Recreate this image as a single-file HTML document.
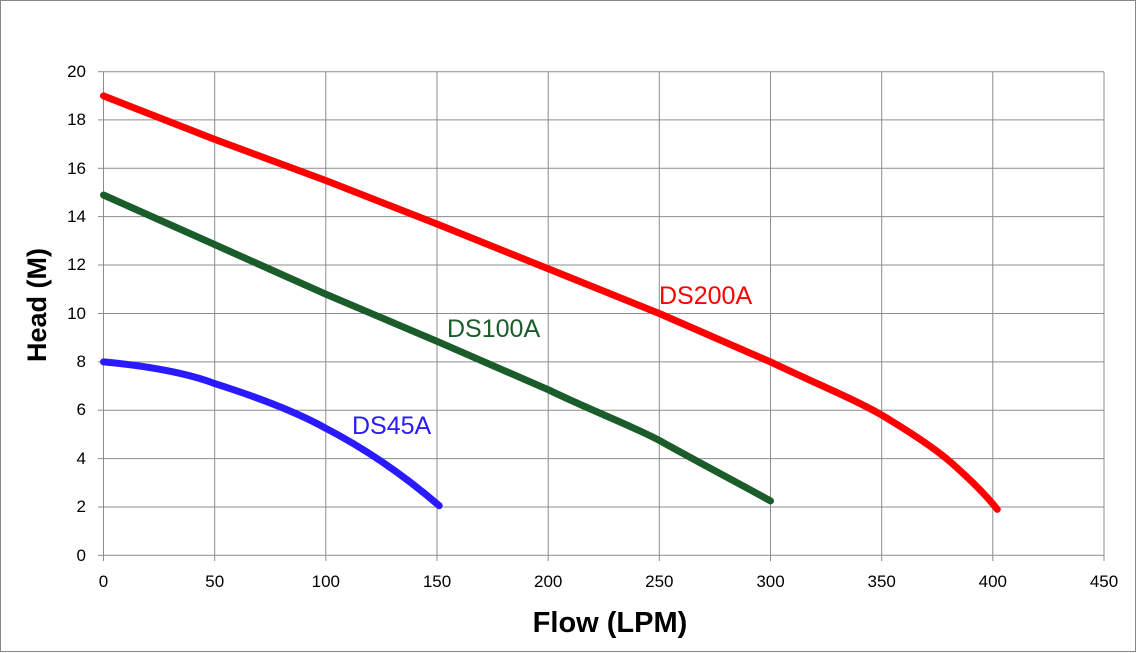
<!DOCTYPE html>
<html><head><style>body{margin:0;background:#fff}svg{display:block}</style></head><body>
<svg width="1137" height="653" xmlns="http://www.w3.org/2000/svg" font-family="Liberation Sans, sans-serif">
<rect x="0.5" y="0.5" width="1135" height="651" fill="#fff" stroke="#888"/>
<g stroke="#8c8c8c" stroke-width="1">
<line x1="103.5" y1="71.7" x2="1104" y2="71.7"/><line x1="103.5" y1="119.9" x2="1104" y2="119.9"/><line x1="103.5" y1="168.3" x2="1104" y2="168.3"/><line x1="103.5" y1="216.6" x2="1104" y2="216.6"/><line x1="103.5" y1="265" x2="1104" y2="265"/><line x1="103.5" y1="313.5" x2="1104" y2="313.5"/><line x1="103.5" y1="361.9" x2="1104" y2="361.9"/><line x1="103.5" y1="410.2" x2="1104" y2="410.2"/><line x1="103.5" y1="458.6" x2="1104" y2="458.6"/><line x1="103.5" y1="507" x2="1104" y2="507"/><line x1="103.5" y1="555.3" x2="1104" y2="555.3"/>
<line x1="103.5" y1="71.7" x2="103.5" y2="561"/><line x1="214.7" y1="71.7" x2="214.7" y2="561"/><line x1="325.8" y1="71.7" x2="325.8" y2="561"/><line x1="437" y1="71.7" x2="437" y2="561"/><line x1="548.2" y1="71.7" x2="548.2" y2="561"/><line x1="659.3" y1="71.7" x2="659.3" y2="561"/><line x1="770.5" y1="71.7" x2="770.5" y2="561"/><line x1="881.7" y1="71.7" x2="881.7" y2="561"/><line x1="992.8" y1="71.7" x2="992.8" y2="561"/><line x1="1104" y1="71.7" x2="1104" y2="561"/>
<line x1="98" y1="71.7" x2="103.5" y2="71.7"/><line x1="98" y1="119.9" x2="103.5" y2="119.9"/><line x1="98" y1="168.3" x2="103.5" y2="168.3"/><line x1="98" y1="216.6" x2="103.5" y2="216.6"/><line x1="98" y1="265" x2="103.5" y2="265"/><line x1="98" y1="313.5" x2="103.5" y2="313.5"/><line x1="98" y1="361.9" x2="103.5" y2="361.9"/><line x1="98" y1="410.2" x2="103.5" y2="410.2"/><line x1="98" y1="458.6" x2="103.5" y2="458.6"/><line x1="98" y1="507" x2="103.5" y2="507"/><line x1="98" y1="555.3" x2="103.5" y2="555.3"/>
</g>
<g font-size="17" fill="#000" text-anchor="end">
<text x="86" y="77">20</text><text x="86" y="125">18</text><text x="86" y="174">16</text><text x="86" y="222">14</text><text x="86" y="270">12</text><text x="86" y="319">10</text><text x="86" y="367">8</text><text x="86" y="415">6</text><text x="86" y="464">4</text><text x="86" y="512">2</text><text x="86" y="561">0</text>
</g>
<g font-size="17" fill="#000" text-anchor="middle">
<text x="103.5" y="587">0</text><text x="214.7" y="587">50</text><text x="325.8" y="587">100</text><text x="437" y="587">150</text><text x="548.2" y="587">200</text><text x="659.3" y="587">250</text><text x="770.5" y="587">300</text><text x="881.7" y="587">350</text><text x="992.8" y="587">400</text><text x="1104" y="587">450</text>
</g>
<text x="610" y="632" font-size="29" font-weight="bold" text-anchor="middle">Flow (LPM)</text>
<text transform="translate(46,305) rotate(-90)" font-size="27" font-weight="bold" text-anchor="middle">Head (M)</text>
<g fill="none" stroke-width="7" stroke-linecap="round" stroke-linejoin="round">
<path stroke="#ff0000" d="M103.5,95.9 L214.7,139.4 L325.8,180.5 L437,224 L548.2,268.8 L659.3,313.5 L770.5,361.9 C810,381 850,397 881.7,415 C910,432 940,452 955,466 C975,484 990,500 997.3,509.4"/>
<path stroke="#1a5c2a" d="M103.5,195 L214.7,244.6 L325.8,294.2 L437,341.3 L548.2,389.7 C590,410 630,425 659.3,440.4 C700,463 740,484 770.5,500.9"/>
<path stroke="#2a1aff" d="M103.5,361.9 C150,366 190,374 214.7,383.6 C260,398 300,414 325.8,428.3 C360,446 400,472 439.2,505.7"/>
</g>
<text x="659" y="304" font-size="25" fill="#ff0000">DS200A</text>
<text x="447" y="337" font-size="25" fill="#1a5c2a">DS100A</text>
<text x="352" y="434" font-size="25" fill="#2a1aff">DS45A</text>
</svg>
</body></html>
